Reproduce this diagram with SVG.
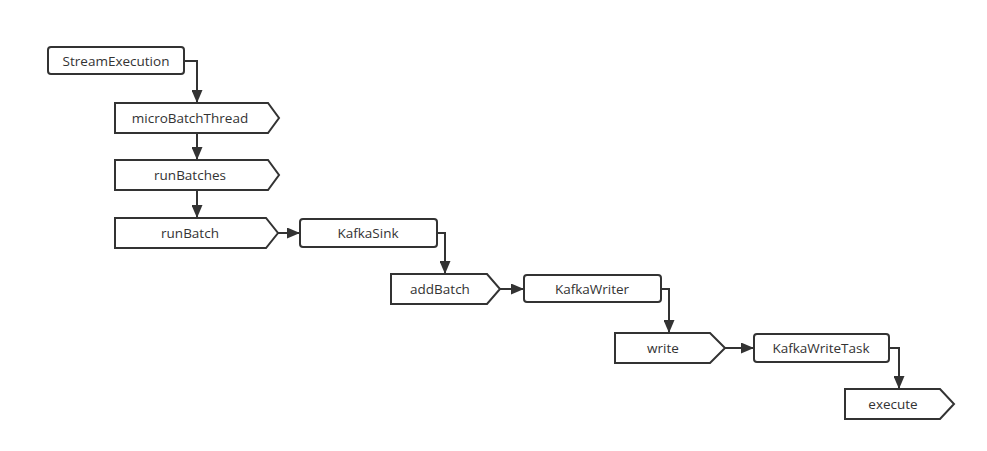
<svg xmlns="http://www.w3.org/2000/svg" width="987" height="451" viewBox="0 0 987 451">
<style>
.n{fill:#fff;stroke:#333;stroke-width:2}
.t{font-family:"Open Sans","Noto Sans","DejaVu Sans",sans-serif;font-size:13.5px;fill:#333;text-anchor:middle;dominant-baseline:central}
.c{fill:none;stroke:#333;stroke-width:2}
</style>
<defs>
<marker id="a" markerWidth="13" markerHeight="11" refX="12" refY="5.5" orient="auto" markerUnits="userSpaceOnUse">
<path d="M0,0 L13,5.5 L0,11 Z" fill="#333"/>
</marker>
</defs>
<rect width="987" height="451" fill="#fff"/>
<g id="connectors">
<path class="c" d="M184,61 H197 V102" marker-end="url(#a)"/>
<path class="c" d="M197,134 V159" marker-end="url(#a)"/>
<path class="c" d="M197,190 V217" marker-end="url(#a)"/>
<path class="c" d="M278,233 H299" marker-end="url(#a)"/>
<path class="c" d="M437,233 H445 V273" marker-end="url(#a)"/>
<path class="c" d="M500,289 H523" marker-end="url(#a)"/>
<path class="c" d="M661,289 H669 V332" marker-end="url(#a)"/>
<path class="c" d="M725,348 H753" marker-end="url(#a)"/>
<path class="c" d="M889,348 H899 V388" marker-end="url(#a)"/>
</g>
<g id="StreamExecution"><rect class="n" x="48" y="47" width="136" height="27" rx="3"/><text class="t" x="116" y="60.5">StreamExecution</text></g>
<g id="microBatchThread"><path class="n" d="M115,103 H268 L279,118 L268,133 H115 Z"/><text class="t" x="190" y="118">microBatchThread</text></g>
<g id="runBatches"><path class="n" d="M115,160 H268 L279,175 L268,190 H115 Z"/><text class="t" x="190" y="175">runBatches</text></g>
<g id="runBatch"><path class="n" d="M115,218 H266 L278,233 L266,248 H115 Z"/><text class="t" x="190" y="233">runBatch</text></g>
<g id="KafkaSink"><rect class="n" x="300" y="219" width="137" height="28" rx="3"/><text class="t" x="368" y="232.5">KafkaSink</text></g>
<g id="addBatch"><path class="n" d="M391,274 H487 L500,289 L487,304 H391 Z"/><text class="t" x="440" y="289">addBatch</text></g>
<g id="KafkaWriter"><rect class="n" x="524" y="275" width="137" height="27" rx="3"/><text class="t" x="592" y="288.5">KafkaWriter</text></g>
<g id="write"><path class="n" d="M615,333 H710 L725,348 L710,363 H615 Z"/><text class="t" x="663" y="348">write</text></g>
<g id="KafkaWriteTask"><rect class="n" x="754" y="334" width="135" height="28" rx="3"/><text class="t" x="821" y="347.5">KafkaWriteTask</text></g>
<g id="execute"><path class="n" d="M845,389 H940 L954,404 L940,419 H845 Z"/><text class="t" x="893" y="404">execute</text></g>
</svg>
